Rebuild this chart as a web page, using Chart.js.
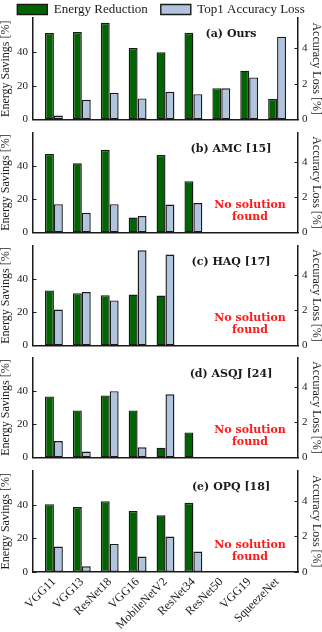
<!DOCTYPE html>
<html>
<head>
<meta charset="utf-8">
<script src="https://cdn.jsdelivr.net/npm/chart.js@4/dist/chart.umd.min.js"></script>
<style>
  html, body { margin: 0; padding: 0; background: #fff; }
  #wrap { position: relative; width: 322px; height: 632px; overflow: hidden; }
  .panel { position: absolute; left: 0; width: 322px; }
</style>
</head>
<body>
<div id="wrap"></div>
<script>
const categories = ["VGG11", "VGG13", "ResNet18", "VGG16", "MobileNetV2", "ResNet34", "ResNet50", "VGG19", "SqueezeNet"];
const panelTitles = ["(a) Ours", "(b) AMC [15]", "(c) HAQ [17]", "(d) ASQJ [24]", "(e) OPQ [18]"];

const energyOurs = [51.4, 52.0, 57.5, 42.5, 40.0, 51.6, 18.6, 29.0, 12.2];
const lossOurs = [0.22, 1.10, 1.50, 1.18, 1.55, 1.42, 1.75, 2.36, 4.65];
const energyAMC = [47.5, 41.8, 50.0, 9.0, 46.9, 31.0, null, null, null];
const lossAMC = [1.61, 1.12, 1.61, 0.93, 1.59, 1.68, null, null, null];
const energyHAQ = [33.3, 31.6, 30.4, 30.8, 30.2, null, null, null, null];
const lossHAQ = [2.05, 3.05, 2.57, 5.43, 5.19, null, null, null, null];
const energyASQJ = [36.9, 28.4, 37.5, 28.4, 5.9, 15.1, null, null, null];
const lossASQJ = [0.93, 0.33, 3.78, 0.58, 3.60, 0, null, null, null];
const energyOPQ = [40.4, 38.7, 42.2, 36.3, 33.8, 41.2, null, null, null];
const lossOPQ = [1.43, 0.32, 1.58, 0.87, 1.99, 1.15, null, null, null];

const energyTicks = [0, 20, 40];
const lossTicks = [0, 2, 4];
const noSolutionText = ["No solution", "found"];

const panels = [
  { energy: energyOurs, loss: lossOurs, noSolution: false },
  { energy: energyAMC, loss: lossAMC, noSolution: true },
  { energy: energyHAQ, loss: lossHAQ, noSolution: true },
  { energy: energyASQJ, loss: lossASQJ, noSolution: true },
  { energy: energyOPQ, loss: lossOPQ, noSolution: true },
];

// layout of the stacked panels (page pixels)
const axisBottoms = [121, 234, 347, 459, 572];
const plotHeight = 103;
const serif = "'Liberation Serif', serif";
const boldSerif = "'DejaVu Serif', serif";
const ink = "#1a1a1a";

const panelDecor = {
  id: "panelDecor",
  afterDraw(chart, args, opts) {
    const { ctx, chartArea: a, scales } = chart;
    ctx.save();
    // inward tick marks
    ctx.strokeStyle = ink;
    ctx.lineWidth = 1;
    energyTicks.forEach((v) => {
      const y = Math.round(scales.yE.getPixelForValue(v)) + 0.5;
      ctx.beginPath();
      ctx.moveTo(a.left, y);
      ctx.lineTo(a.left + 3.5, y);
      ctx.stroke();
    });
    lossTicks.forEach((v) => {
      const y = Math.round(scales.yL.getPixelForValue(v)) + 0.5;
      ctx.beginPath();
      ctx.moveTo(a.right, y);
      ctx.lineTo(a.right - 3.5, y);
      ctx.stroke();
    });
    // panel title
    ctx.fillStyle = ink;
    ctx.font = "bold 11px " + boldSerif;
    ctx.textAlign = "center";
    ctx.textBaseline = "middle";
    ctx.fillText(opts.title, 231, a.top + 16.5);
    if (opts.noSolution) {
      ctx.fillStyle = "#ff1a1a";
      ctx.font = "bold 11px " + boldSerif;
      ctx.fillText(noSolutionText[0], 250, a.bottom - 27);
      ctx.fillText(noSolutionText[1], 250, a.bottom - 15);
    }
    ctx.restore();
  },
};

const wrap = document.getElementById("wrap");
panels.forEach(makePanel);

function makePanel(p, i) {
  const first = i === 0;
  const last = i === panels.length - 1;
  const top = first ? -10 : axisBottoms[i] - plotHeight - 10;
  const bottom = last ? 632 : axisBottoms[i] + 10;

  const div = document.createElement("div");
  div.className = "panel";
  div.style.top = top + "px";
  div.style.height = bottom - top + "px";
  const canvas = document.createElement("canvas");
  div.appendChild(canvas);
  wrap.appendChild(div);

  const border = { display: true, color: ink, width: 1.5 };
  const tickFont = { family: serif, size: 11 };

  new Chart(canvas, {
    type: "bar",
    data: {
      labels: categories.map((_, k) => k),
      datasets: [
        {
          label: "Energy Reduction",
          data: p.energy,
          yAxisID: "yE",
          backgroundColor: "#006400",
          borderColor: ink,
          borderWidth: 1.4,
          borderSkipped: false,
        },
        {
          label: "Top1 Accuracy Loss",
          data: p.loss,
          yAxisID: "yL",
          backgroundColor: "#b0c4de",
          borderColor: ink,
          borderWidth: 1.4,
          borderSkipped: false,
        },
      ],
    },
    options: {
      responsive: true,
      maintainAspectRatio: false,
      animation: false,
      layout: { padding: { top: first ? 0 : 10, left: 0, right: 0, bottom: 0 } },
      datasets: { bar: { categoryPercentage: 0.64, barPercentage: 1 } },
      plugins: {
        legend: {
          display: first,
          position: "top",
          maxHeight: 28,
          labels: {
            boxWidth: 30,
            boxHeight: 10,
            padding: 13,
            color: ink,
            font: { family: serif, size: 13 },
          },
        },
        tooltip: { enabled: false },
        panelDecor: { title: panelTitles[i], noSolution: p.noSolution },
      },
      scales: {
        x: {
          type: "linear",
          offset: false,
          min: -0.75,
          max: 8.75,
          grid: { display: false, drawTicks: false },
          border: border,
          afterBuildTicks: (s) => {
            s.ticks = categories.map((_, k) => ({ value: k }));
          },
          afterFit: (s) => {
            s.height = last ? 60 : 10;
          },
          ticks: {
            display: last,
            autoSkip: false,
            minRotation: 45,
            maxRotation: 45,
            padding: 3,
            color: ink,
            font: { family: serif, size: 12 },
            callback: (v) => categories[v],
          },
        },
        yE: {
          position: "left",
          min: 0,
          max: 60.4,
          grid: { display: false, drawTicks: false },
          border: border,
          afterBuildTicks: (s) => {
            s.ticks = energyTicks.map((v) => ({ value: v }));
          },
          afterFit: (s) => {
            s.width = 33;
          },
          ticks: { padding: 5, color: ink, font: tickFont },
          title: {
            display: true,
            text: "Energy Savings [%]",
            color: ink,
            padding: 0,
            font: { family: serif, size: 12, lineHeight: 1 },
          },
        },
        yL: {
          position: "right",
          min: 0,
          max: 5.7,
          grid: { display: false, drawTicks: false },
          border: border,
          afterBuildTicks: (s) => {
            s.ticks = lossTicks.map((v) => ({ value: v }));
          },
          afterFit: (s) => {
            s.width = 24;
          },
          ticks: { padding: 4, color: ink, font: tickFont },
          title: {
            display: true,
            text: "Accuracy Loss [%]",
            color: ink,
            padding: 0,
            font: { family: serif, size: 12, lineHeight: 1 },
          },
        },
      },
    },
    plugins: [panelDecor],
  });
}
</script>
</body>
</html>
